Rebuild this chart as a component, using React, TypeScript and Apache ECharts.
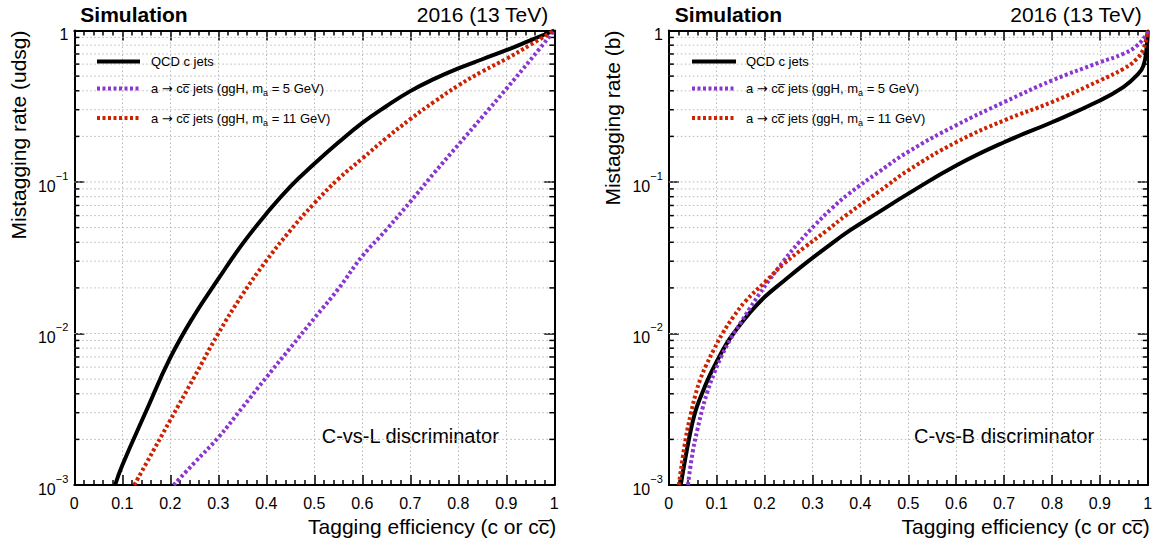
import React, { useEffect, useRef } from "react";
import * as echarts from "echarts";

const FONT = '"Liberation Sans", Arial, Helvetica, sans-serif';

// ---- data ----
const seriesNames = [
  "QCD c jets",
  "a \u2192 cc\u0305 jets (ggH, m_a = 5 GeV)",
  "a \u2192 cc\u0305 jets (ggH, m_a = 11 GeV)",
];
const seriesColors = ["#000000", "#8a35d0", "#cc2200"];

// Left panel: C-vs-L discriminator, mistagging rate (udsg)
const effL_QCD = [0.085, 0.1, 0.15, 0.2, 0.25, 0.3, 0.35, 0.4, 0.45, 0.5, 0.55, 0.6, 0.65, 0.7, 0.75, 0.8, 0.85, 0.9, 0.95, 1.0];
const rateL_QCD = [0.001, 0.00135, 0.00309, 0.00692, 0.0132, 0.0229, 0.0389, 0.0617, 0.0933, 0.1318, 0.182, 0.2455, 0.3162, 0.398, 0.479, 0.562, 0.646, 0.741, 0.861, 1];
const effL_5 = [0.207, 0.25, 0.3, 0.35, 0.4, 0.45, 0.5, 0.55, 0.6, 0.65, 0.7, 0.75, 0.8, 0.85, 0.9, 0.95, 1.0];
const rateL_5 = [0.001, 0.0014, 0.00206, 0.00324, 0.00513, 0.00804, 0.0126, 0.0197, 0.0324, 0.0484, 0.0741, 0.115, 0.176, 0.269, 0.412, 0.638, 1];
const effL_11 = [0.125, 0.15, 0.2, 0.25, 0.3, 0.35, 0.4, 0.45, 0.5, 0.55, 0.6, 0.65, 0.7, 0.75, 0.8, 0.85, 0.9, 0.95, 1.0];
const rateL_11 = [0.001, 0.00139, 0.00268, 0.00516, 0.01, 0.018, 0.0302, 0.0479, 0.0724, 0.1047, 0.1429, 0.195, 0.26, 0.339, 0.4335, 0.537, 0.65, 0.8035, 1];

// Right panel: C-vs-B discriminator, mistagging rate (b)
const effR_QCD = [0.025, 0.042, 0.055, 0.07, 0.085, 0.1, 0.12, 0.135, 0.17, 0.2, 0.24, 0.284, 0.33, 0.378, 0.44, 0.5, 0.6, 0.7, 0.8, 0.9, 0.949, 0.977, 0.991, 0.998, 1.0];
const rateR_QCD = [0.001, 0.002, 0.00302, 0.00407, 0.00525, 0.00653, 0.00851, 0.01, 0.0138, 0.0174, 0.0222, 0.0288, 0.0372, 0.0479, 0.0637, 0.0838, 0.1285, 0.183, 0.248, 0.345, 0.423, 0.505, 0.587, 0.794, 1];
const effR_5 = [0.04, 0.05, 0.06, 0.07, 0.08, 0.095, 0.11, 0.13, 0.15, 0.17, 0.19, 0.21, 0.24, 0.27, 0.305, 0.34, 0.375, 0.44, 0.5, 0.6, 0.7, 0.8, 0.9, 0.949, 0.977, 0.998, 1.0];
const rateR_5 = [0.001, 0.00166, 0.00234, 0.00316, 0.00407, 0.0055, 0.00708, 0.00933, 0.01175, 0.0148, 0.0184, 0.0226, 0.0302, 0.0394, 0.0519, 0.0668, 0.0832, 0.1175, 0.1585, 0.237, 0.3365, 0.468, 0.617, 0.702, 0.794, 0.95, 1];
const effR_11 = [0.021, 0.035, 0.046, 0.056, 0.066, 0.078, 0.095, 0.112, 0.135, 0.159, 0.201, 0.24, 0.284, 0.33, 0.37, 0.44, 0.5, 0.6, 0.7, 0.8, 0.9, 0.949, 0.977, 0.991, 0.998, 1.0];
const rateR_11 = [0.001, 0.002, 0.00295, 0.00398, 0.00501, 0.00617, 0.00794, 0.01, 0.0129, 0.0162, 0.0219, 0.0288, 0.0372, 0.0479, 0.0603, 0.0871, 0.1194, 0.183, 0.255, 0.337, 0.468, 0.558, 0.65, 0.757, 0.925, 1];

// y grid / minor tick positions (log axis)
const yMajorInner = [0.01, 0.1];
const yMinorTicks = [
  0.002, 0.003, 0.004, 0.005, 0.006, 0.007, 0.008, 0.009,
  0.02, 0.03, 0.04, 0.05, 0.06, 0.07, 0.08, 0.09,
  0.2, 0.3, 0.4, 0.5, 0.6, 0.7, 0.8, 0.9,
];

const panelTitlesY = ["Mistagging rate (udsg)", "Mistagging rate (b)"];
const panelLabels = ["C-vs-L discriminator", "C-vs-B discriminator"];
const xTitle = "Tagging efficiency (c or cc\u0305)";

const zip = (xs: number[], ys: number[]) => xs.map((x, i) => [x, ys[i]]);

const GRIDS = [
  { left: 74.3, top: 30.5, width: 480, height: 454.5 },
  { left: 668.8, top: 30.5, width: 479, height: 454.5 },
];

function buildOption() {
  const black = "#000";
  const axisLine = { show: true, onZero: false, lineStyle: { color: black, width: 2 } };
  const tick = { show: true, inside: true, length: 10, lineStyle: { color: black, width: 1.5 } };
  const minor = { show: true, splitNumber: 5, length: 5, lineStyle: { color: black, width: 1.5 } };
  const gridLine = { show: true, lineStyle: { color: "#b8b8b8", width: 1, type: [1.5, 2.5] } };

  const xAxis: any[] = [];
  const yAxis: any[] = [];
  GRIDS.forEach((_, gi) => {
    xAxis.push({
      type: "value", gridIndex: gi, min: 0, max: 1, interval: 0.1, position: "bottom",
      axisLine, axisTick: tick, minorTick: minor,
      axisLabel: { show: true, fontSize: 16, color: black, fontFamily: FONT, margin: 10, showMinLabel: true, showMaxLabel: true },
      splitLine: gridLine,
    });
    xAxis.push({
      type: "value", gridIndex: gi, min: 0, max: 1, interval: 0.1, position: "top",
      axisLine, axisTick: tick, minorTick: minor,
      axisLabel: { show: false }, splitLine: { show: false },
    });
    yAxis.push({
      type: "log", logBase: 10, gridIndex: gi, min: 0.001, max: 1, position: "left",
      axisLine, axisTick: tick,
      axisLabel: {
        show: true, margin: 6, color: black, fontFamily: FONT, showMinLabel: true, showMaxLabel: true,
        formatter: (v: number) => {
          const e = Math.round(Math.log10(v));
          return e === 0 ? "{b|1}" : `{b|10}{s|\u2212${-e}}`;
        },
        rich: {
          b: { fontSize: 16, fontFamily: FONT, color: black, lineHeight: 24, verticalAlign: "bottom" },
          s: { fontSize: 11, fontFamily: FONT, color: black, lineHeight: 12, verticalAlign: "top" },
        },
      },
      splitLine: { show: false },
    });
    yAxis.push({
      type: "log", logBase: 10, gridIndex: gi, min: 0.001, max: 1, position: "right",
      axisLine, axisTick: tick, axisLabel: { show: false }, splitLine: { show: false },
    });
  });

  const gridValues = [...yMajorInner.map((v) => [0, v, 1]), ...yMinorTicks.map((v) => [0, v, 0])];

  const series: any[] = [];
  GRIDS.forEach((_, gi) => {
    series.push({
      type: "custom",
      xAxisIndex: gi * 2,
      yAxisIndex: gi * 2,
      silent: true,
      z: 1,
      data: gridValues,
      renderItem: (params: any, api: any) => {
        const v = api.value(1);
        const isMajor = api.value(2) === 1;
        const a = api.coord([0, v]);
        const b = api.coord([1, v]);
        const children: any[] = [
          {
            type: "line",
            shape: { x1: a[0], y1: a[1], x2: b[0], y2: b[1] },
            style: { stroke: "#b8b8b8", lineWidth: 1, lineDash: [1.5, 2.5] },
          },
        ];
        if (!isMajor) {
          children.push({
            type: "line",
            shape: { x1: a[0], y1: a[1], x2: a[0] + 5, y2: a[1] },
            style: { stroke: black, lineWidth: 1.5 },
          });
          children.push({
            type: "line",
            shape: { x1: b[0] - 5, y1: b[1], x2: b[0], y2: b[1] },
            style: { stroke: black, lineWidth: 1.5 },
          });
        }
        return { type: "group", children };
      },
    });
  });

  const panels = [
    [zip(effL_QCD, rateL_QCD), zip(effL_5, rateL_5), zip(effL_11, rateL_11)],
    [zip(effR_QCD, rateR_QCD), zip(effR_5, rateR_5), zip(effR_11, rateR_11)],
  ];
  panels.forEach((curves, gi) => {
    curves.forEach((data, si) => {
      series.push({
        type: "line",
        name: seriesNames[si],
        xAxisIndex: gi * 2,
        yAxisIndex: gi * 2,
        data,
        showSymbol: false,
        symbol: "none",
        smooth: 0.45,
        z: 3 + si,
        lineStyle: {
          color: seriesColors[si],
          width: 4,
          type: si === 0 ? "solid" : [3, 2.5],
        },
        itemStyle: { color: seriesColors[si] },
      });
    });
  });

  const legendFormatter = (name: string) => {
    if (name.includes("m_a")) {
      const [pre, post] = name.split("m_a");
      const [a, rest] = pre.split("\u2192");
      return `{t|${a}}{ar|\u2192}{t|${rest}m}{s|a}{t|${post}}`;
    }
    return `{t|${name}}`;
  };
  const legendRich = {
    t: { fontSize: 13, fontFamily: FONT, color: black, lineHeight: 18 },
    ar: { fontSize: 13, fontFamily: '"DejaVu Sans", sans-serif', color: black, lineHeight: 18 },
    s: { fontSize: 9, fontFamily: FONT, color: black, lineHeight: 10, verticalAlign: "bottom" },
  };
  const legend = [
    { left: 95, pad: 6, w: 43 },
    { left: 690, pad: 5, w: 44 },
  ].map((l) => ({
    left: l.left,
    top: 55,
    padding: 0,
    orient: "vertical",
    itemWidth: l.w,
    itemHeight: 14,
    itemGap: 14,
    selectedMode: false,
    data: seriesNames,
    formatter: legendFormatter,
    itemStyle: { color: "transparent", borderColor: "transparent", borderWidth: 0, opacity: 0 },
    lineStyle: { width: 4 },
    textStyle: { fontSize: 13, fontFamily: FONT, color: black, padding: [0, 0, 0, l.pad], rich: legendRich },
  }));

  const graphic: any[] = [];
  GRIDS.forEach((g, gi) => {
    const right = g.left + g.width;
    graphic.push({
      type: "text", x: g.left + 6, y: 14,
      style: { text: "Simulation", font: `bold 21px ${FONT}`, fill: black, textAlign: "left", textVerticalAlign: "middle", align: "left", verticalAlign: "middle" },
    });
    graphic.push({
      type: "text", x: right - 6, y: 14,
      style: { text: "2016 (13 TeV)", font: `21px ${FONT}`, fill: black, textAlign: "right", textVerticalAlign: "middle", align: "right", verticalAlign: "middle" },
    });
    graphic.push({
      type: "text", x: g.left - 56, y: g.top, rotation: Math.PI / 2,
      style: { text: panelTitlesY[gi], font: `21px ${FONT}`, fill: black, textAlign: "right", textVerticalAlign: "middle", align: "right", verticalAlign: "middle" },
    });
    graphic.push({
      type: "text", x: right + 2, y: 526,
      style: { text: xTitle, font: `21px ${FONT}`, fill: black, textAlign: "right", textVerticalAlign: "middle", align: "right", verticalAlign: "middle" },
    });
    graphic.push({
      type: "text", x: g.left + g.width * 0.70, y: 436,
      style: { text: panelLabels[gi], font: `20px ${FONT}`, fill: black, textAlign: "center", textVerticalAlign: "middle", align: "center", verticalAlign: "middle" },
    });
  });

  return {
    animation: false,
    backgroundColor: "#ffffff",
    grid: GRIDS.map((g) => ({ ...g, containLabel: false })),
    xAxis,
    yAxis,
    legend,
    series,
    graphic,
  };
}

export default function App() {
  const ref = useRef<HTMLDivElement>(null);
  useEffect(() => {
    if (!ref.current) return;
    const chart = echarts.init(ref.current, undefined, { renderer: "svg" });
    chart.setOption(buildOption() as any);
    return () => chart.dispose();
  }, []);
  return (
    <div
      ref={ref}
      style={{ position: "fixed", left: 0, top: 0, width: 1158, height: 548, background: "#fff" }}
    />
  );
}
